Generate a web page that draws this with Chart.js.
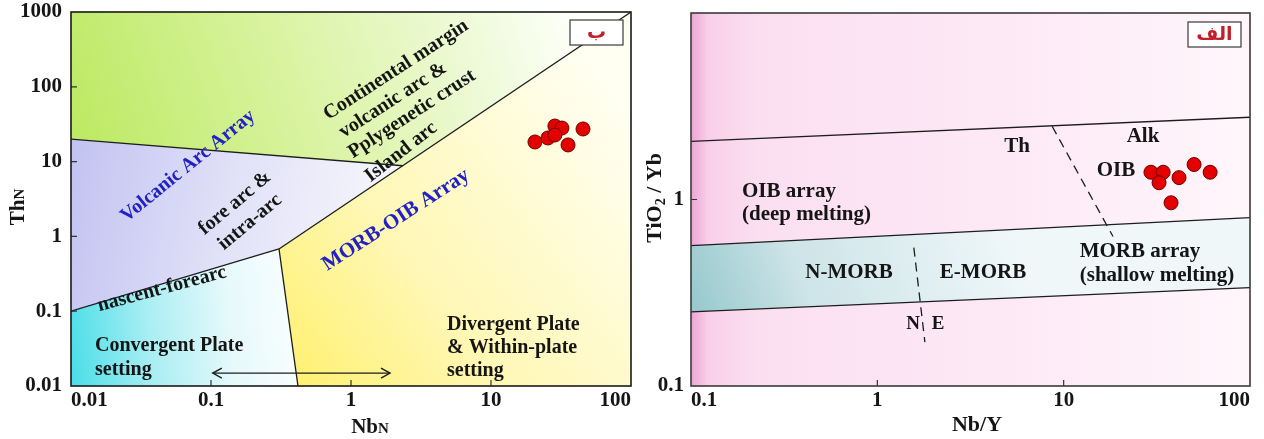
<!DOCTYPE html>
<html>
<head>
<meta charset="utf-8">
<script src="https://cdn.jsdelivr.net/npm/chart.js@4.4.1/dist/chart.umd.min.js"></script>
<style>
  html, body { margin: 0; padding: 0; background: #fff; overflow: hidden; }
  #wrap { position: relative; width: 1264px; height: 439px; }
  canvas { position: absolute; top: 0; }
  #tect { left: 0; }
  #morb { left: 640px; }
</style>
</head>
<body>
<div id="wrap">
  <canvas id="tect" width="640" height="439"></canvas>
  <canvas id="morb" width="624" height="439"></canvas>
</div>
<script>
// ---------- Th_N vs Nb_N tectonic setting diagram ----------
const nbNTicks = [0.01, 0.1, 1, 10, 100];
const thNTicks = [0.01, 0.1, 1, 10, 100, 1000];
const sampleNbN = [20.6, 25.5, 28.6, 32.1, 28.6, 35.5, 45.4];
const sampleThN = [18.3, 20.7, 29.9, 28.1, 22.7, 16.7, 27.3];

// field boundaries, [Nb_N, Th_N]
const arcUpperLine = [[0.01, 20], [2.34, 8.8]];
const nascentLine = [[0.01, 0.1], [0.306, 0.68]];
const morbOibLine = [[0.306, 0.68], [100, 1000]];
const plateDivideLine = [[0.306, 0.68], [0.418, 0.01]];
const settingArrow = [[0.103, 0.0149], [1.9, 0.0149]];

// field outlines
const fieldContinental = [[0.01, 20], [0.01, 1000], [100, 1000], [2.34, 8.8]];
const fieldArc = [[0.01, 20], [2.34, 8.8], [0.306, 0.68], [0.01, 0.1]];
const fieldConvergent = [[0.01, 0.1], [0.306, 0.68], [0.418, 0.01], [0.01, 0.01]];
const fieldDivergent = [[0.306, 0.68], [100, 1000], [100, 0.01], [0.418, 0.01]];

// ---------- TiO2/Yb vs Nb/Y diagram ----------
const nbYTicks = [0.1, 1, 10, 100];
const tiYbTicks = [0.1, 1];
const sampleNbY = [29.4, 34.2, 32.5, 41.6, 50.1, 61.1, 37.7];
const sampleTiYb = [1.40, 1.40, 1.23, 1.31, 1.54, 1.40, 0.96];

const oibUpperLine = [[0.1, 2.05], [100, 2.76]];
const morbUpperLine = [[0.1, 0.566], [100, 0.80]];
const morbLowerLine = [[0.1, 0.25], [100, 0.337]];
const thAlkLine = [[8.67, 2.47], [18.4, 0.633]];
const nELine = [[1.57, 0.552], [1.80, 0.172]];
const fieldOib = [[0.1, 0.1], [0.1, 10], [100, 10], [100, 0.1]];
const fieldMorb = [[0.1, 0.566], [100, 0.80], [100, 0.337], [0.1, 0.25]];

// ---------- shared helpers ----------
const SERIF = '"Liberation Serif", "Times New Roman", serif';
const INK = '#151515';
const BLUE = '#2121c4';
const ARABIC_RED = '#c21f2b';

const pts = arr => arr.map(([x, y]) => ({ x, y }));

function areaGradient(stops, fx0, fy0, fx1, fy1) {
  return c => {
    const a = c.chart.chartArea;
    if (!a) return 'rgba(0,0,0,0)';
    const w = a.right - a.left, h = a.bottom - a.top;
    const g = c.chart.ctx.createLinearGradient(a.left + fx0 * w, a.top + fy0 * h, a.left + fx1 * w, a.top + fy1 * h);
    stops.forEach(([o, col]) => g.addColorStop(o, col));
    return g;
  };
}

function field(data, bg, order) {
  return { type: 'line', data: pts(data), fill: 'shape', backgroundColor: bg,
           borderWidth: 0, pointRadius: 0, tension: 0, order: order || 3 };
}
function boundary(data, dash) {
  return { type: 'line', data: pts(data), fill: false, borderColor: '#1d1d1d',
           borderWidth: 1.3, borderDash: dash || [], pointRadius: 0, tension: 0, order: 2 };
}
function samples(xs, ys) {
  return { type: 'scatter', data: xs.map((x, i) => ({ x, y: ys[i] })),
           pointRadius: 7, pointBackgroundColor: '#e50000', pointBorderColor: '#6e0000',
           pointBorderWidth: 1, order: 0 };
}

function logAxis(min, max, ticks, opts) {
  return {
    type: 'logarithmic', min, max,
    afterBuildTicks: s => { s.ticks = ticks.map(v => ({ value: v })); },
    afterFit: s => {
      if (opts.size.h) { s.height = opts.size.h; s.paddingLeft = 0; s.paddingRight = 0; }
      if (opts.size.w) { s.width = opts.size.w; s.paddingTop = 0; s.paddingBottom = 0; }
    },
    grid: { display: false, drawTicks: false },
    border: { display: false },
    ticks: {
      autoSkip: false, maxRotation: 0, align: opts.align || 'center', padding: opts.pad,
      color: INK, font: { family: SERIF, weight: 'bold', size: 21 },
      callback: v => String(v)
    }
  };
}

function drawText(ctx, t) {
  ctx.save();
  ctx.translate(t.x, t.y);
  ctx.rotate((t.a || 0) * Math.PI / 180);
  ctx.font = `bold ${t.s || 21}px ${t.f || SERIF}`;
  ctx.fillStyle = t.c || INK;
  ctx.textAlign = t.al || 'center';
  ctx.textBaseline = 'middle';
  ctx.fillText(t.t, 0, 0);
  ctx.restore();
}

// mixed-size run (axis titles with subscript / small-cap letters)
function drawRuns(ctx, parts, cx, cy, angle) {
  ctx.save();
  ctx.translate(cx, cy);
  ctx.rotate(angle * Math.PI / 180);
  ctx.fillStyle = INK;
  ctx.textBaseline = 'alphabetic';
  ctx.textAlign = 'left';
  let total = 0;
  parts.forEach(p => { ctx.font = `bold ${p.s}px ${SERIF}`; p.w = ctx.measureText(p.t).width; total += p.w; });
  let x = -total / 2;
  const base = parts[0].s * 0.34;
  parts.forEach(p => { ctx.font = `bold ${p.s}px ${SERIF}`; ctx.fillText(p.t, x, base + (p.dy || 0)); x += p.w; });
  ctx.restore();
}

function decor(cfg) {
  return {
    id: 'decor',
    afterDatasetsDraw(chart) {
      const { ctx, chartArea: a, scales: { x, y } } = chart;
      ctx.save();
      // short inward tick marks
      ctx.strokeStyle = '#333';
      ctx.lineWidth = 1.2;
      ctx.beginPath();
      x.ticks.forEach(t => {
        const p = x.getPixelForValue(t.value);
        if (p > a.left + 2 && p < a.right - 2) { ctx.moveTo(p, a.bottom); ctx.lineTo(p, a.bottom - 6); }
      });
      y.ticks.forEach(t => {
        const p = y.getPixelForValue(t.value);
        if (p > a.top + 2 && p < a.bottom - 2) { ctx.moveTo(a.left, p); ctx.lineTo(a.left + 6, p); }
      });
      ctx.stroke();
      // plot frame
      ctx.strokeStyle = cfg.frame;
      ctx.lineWidth = 1.6;
      ctx.strokeRect(a.left, a.top, a.right - a.left, a.bottom - a.top);

      // double-headed arrow heads
      if (cfg.arrow) {
        const [p0, p1] = cfg.arrow.map(([vx, vy]) => ({ x: x.getPixelForValue(vx), y: y.getPixelForValue(vy) }));
        ctx.strokeStyle = '#1d1d1d';
        ctx.lineWidth = 1.4;
        ctx.beginPath();
        ctx.moveTo(p0.x + 9, p0.y - 5); ctx.lineTo(p0.x, p0.y); ctx.lineTo(p0.x + 9, p0.y + 5);
        ctx.moveTo(p1.x - 9, p1.y - 5); ctx.lineTo(p1.x, p1.y); ctx.lineTo(p1.x - 9, p1.y + 5);
        ctx.stroke();
      }

      // panel tag box
      const b = cfg.tag;
      ctx.fillStyle = '#fff';
      ctx.fillRect(b.x, b.y, b.w, b.h);
      ctx.strokeStyle = '#3a3a3a';
      ctx.lineWidth = 1.2;
      ctx.strokeRect(b.x, b.y, b.w, b.h);
      drawText(ctx, { t: b.t, x: b.x + b.w / 2, y: b.y + b.h / 2 + 1, s: 19, c: ARABIC_RED, f: '"DejaVu Sans", sans-serif' });

      cfg.labels.forEach(t => drawText(ctx, t));
      cfg.titles.forEach(tt => drawRuns(ctx, tt.parts, tt.x, tt.y, tt.a));
      ctx.restore();
    }
  };
}

const common = {
  responsive: false, devicePixelRatio: 1, animation: false, events: [],
  plugins: { legend: { display: false }, tooltip: { enabled: false } }
};

// ---------- left panel ----------
new Chart(document.getElementById('tect'), {
  type: 'scatter',
  data: {
    datasets: [
      samples(sampleNbN, sampleThN),
      boundary(arcUpperLine),
      boundary(nascentLine),
      boundary(morbOibLine),
      boundary(plateDivideLine),
      boundary(settingArrow),
      field(fieldContinental, areaGradient([[0, '#bbe95f'], [0.45, '#d9f3a0'], [0.8, '#eefad8'], [1, '#fdfff8']], 0, 0.42, 0.88, -0.03)),
      field(fieldArc, areaGradient([[0, '#c3c3f2'], [0.5, '#e2e2f8'], [1, '#f8f8fd']], 0, 0.40, 0.59, 0.58)),
      field(fieldConvergent, areaGradient([[0, '#4cdee8'], [0.35, '#a9eef3'], [0.7, '#e6f9fb'], [1, '#f9fefe']], 0, 0.94, 0.41, 0.88)),
      field(fieldDivergent, areaGradient([[0, '#fff06c'], [0.4, '#fff7b4'], [1, '#fffff2']], 0.37, 1.0, 1.0, 0.29))
    ]
  },
  options: {
    ...common,
    layout: { padding: { top: 12, right: 9, left: 0, bottom: 0 } },
    scales: {
      x: logAxis(0.01, 100, nbNTicks, { size: { h: 53 }, pad: 2, align: 'inner' }),
      y: logAxis(0.01, 1000, thNTicks, { size: { w: 71 }, pad: 9 })
    }
  },
  plugins: [decor({
    frame: '#1a1a1a',
    arrow: settingArrow,
    tag: { x: 570, y: 20, w: 53, h: 25, t: 'ب' },
    labels: [
      { t: 'Volcanic Arc Array', x: 188, y: 166, a: -39, s: 20, c: BLUE },
      { t: 'fore arc &', x: 235, y: 203, a: -40, s: 20 },
      { t: 'intra-arc', x: 250, y: 222, a: -40, s: 20 },
      { t: 'nascent-forearc', x: 162, y: 289, a: -15, s: 20 },
      { t: 'MORB-OIB Array', x: 396, y: 220, a: -33, s: 21, c: BLUE },
      { t: 'Continental margin', x: 396, y: 70, a: -33, s: 20 },
      { t: 'volcanic arc &', x: 393, y: 100, a: -33, s: 20 },
      { t: 'Pplygenetic crust', x: 412, y: 114, a: -33, s: 20 },
      { t: 'Island arc', x: 401, y: 152, a: -38, s: 20 },
      { t: 'Convergent Plate', x: 95, y: 346, al: 'left', s: 20 },
      { t: 'setting', x: 95, y: 370, al: 'left', s: 20 },
      { t: 'Divergent Plate', x: 447, y: 325, al: 'left', s: 20 },
      { t: '& Within-plate', x: 447, y: 348, al: 'left', s: 20 },
      { t: 'setting', x: 447, y: 371, al: 'left', s: 20 }
    ],
    titles: [
      { parts: [{ t: 'Th', s: 21 }, { t: 'N', s: 15 }], x: 17, y: 207, a: -90 },
      { parts: [{ t: 'Nb', s: 21 }, { t: 'N', s: 15 }], x: 370, y: 426, a: 0 }
    ]
  })]
});

// ---------- right panel ----------
new Chart(document.getElementById('morb'), {
  type: 'scatter',
  data: {
    datasets: [
      samples(sampleNbY, sampleTiYb),
      boundary(oibUpperLine),
      boundary(morbUpperLine),
      boundary(morbLowerLine),
      boundary(thAlkLine, [9, 6]),
      boundary(nELine, [9, 6]),
      field(fieldMorb, areaGradient([[0, '#96c8cc'], [0.35, '#cde4e8'], [1, '#eff7f9']], 0, 0.80, 0.55, 0.50), 3),
      field(fieldOib, areaGradient([[0, '#eda4d4'], [0.03, '#f8cfe9'], [0.12, '#fbdff1'], [0.6, '#fdeaf6'], [1, '#fff6fb']], 0, 0, 1, 0), 4)
    ]
  },
  options: {
    ...common,
    layout: { padding: { top: 13, right: 14, left: 0, bottom: 0 } },
    scales: {
      x: logAxis(0.1, 100, nbYTicks, { size: { h: 53 }, pad: 2, align: 'inner' }),
      y: logAxis(0.1, 10, tiYbTicks, { size: { w: 51 }, pad: 7 })
    }
  },
  plugins: [decor({
    frame: '#3a3a3a',
    tag: { x: 548, y: 22, w: 53, h: 25, t: 'الف' },
    labels: [
      { t: 'OIB array', x: 102, y: 192, al: 'left', s: 21 },
      { t: '(deep melting)', x: 102, y: 215, al: 'left', s: 21 },
      { t: 'Th', x: 377, y: 147, s: 21 },
      { t: 'Alk', x: 503, y: 137, s: 21 },
      { t: 'OIB', x: 476, y: 171, s: 21 },
      { t: 'N-MORB', x: 209, y: 273, s: 21 },
      { t: 'E-MORB', x: 343, y: 273, s: 21 },
      { t: 'MORB array', x: 500, y: 252, s: 21 },
      { t: '(shallow melting)', x: 517, y: 276, s: 21 },
      { t: 'N', x: 273, y: 324, s: 19 },
      { t: 'E', x: 298, y: 324, s: 19 }
    ],
    titles: [
      { parts: [{ t: 'TiO', s: 22 }, { t: '2', s: 14, dy: 4 }, { t: ' / Yb', s: 22 }], x: 14, y: 198, a: -90 },
      { parts: [{ t: 'Nb/Y', s: 22 }], x: 337, y: 424, a: 0 }
    ]
  })]
});
</script>
</body>
</html>
